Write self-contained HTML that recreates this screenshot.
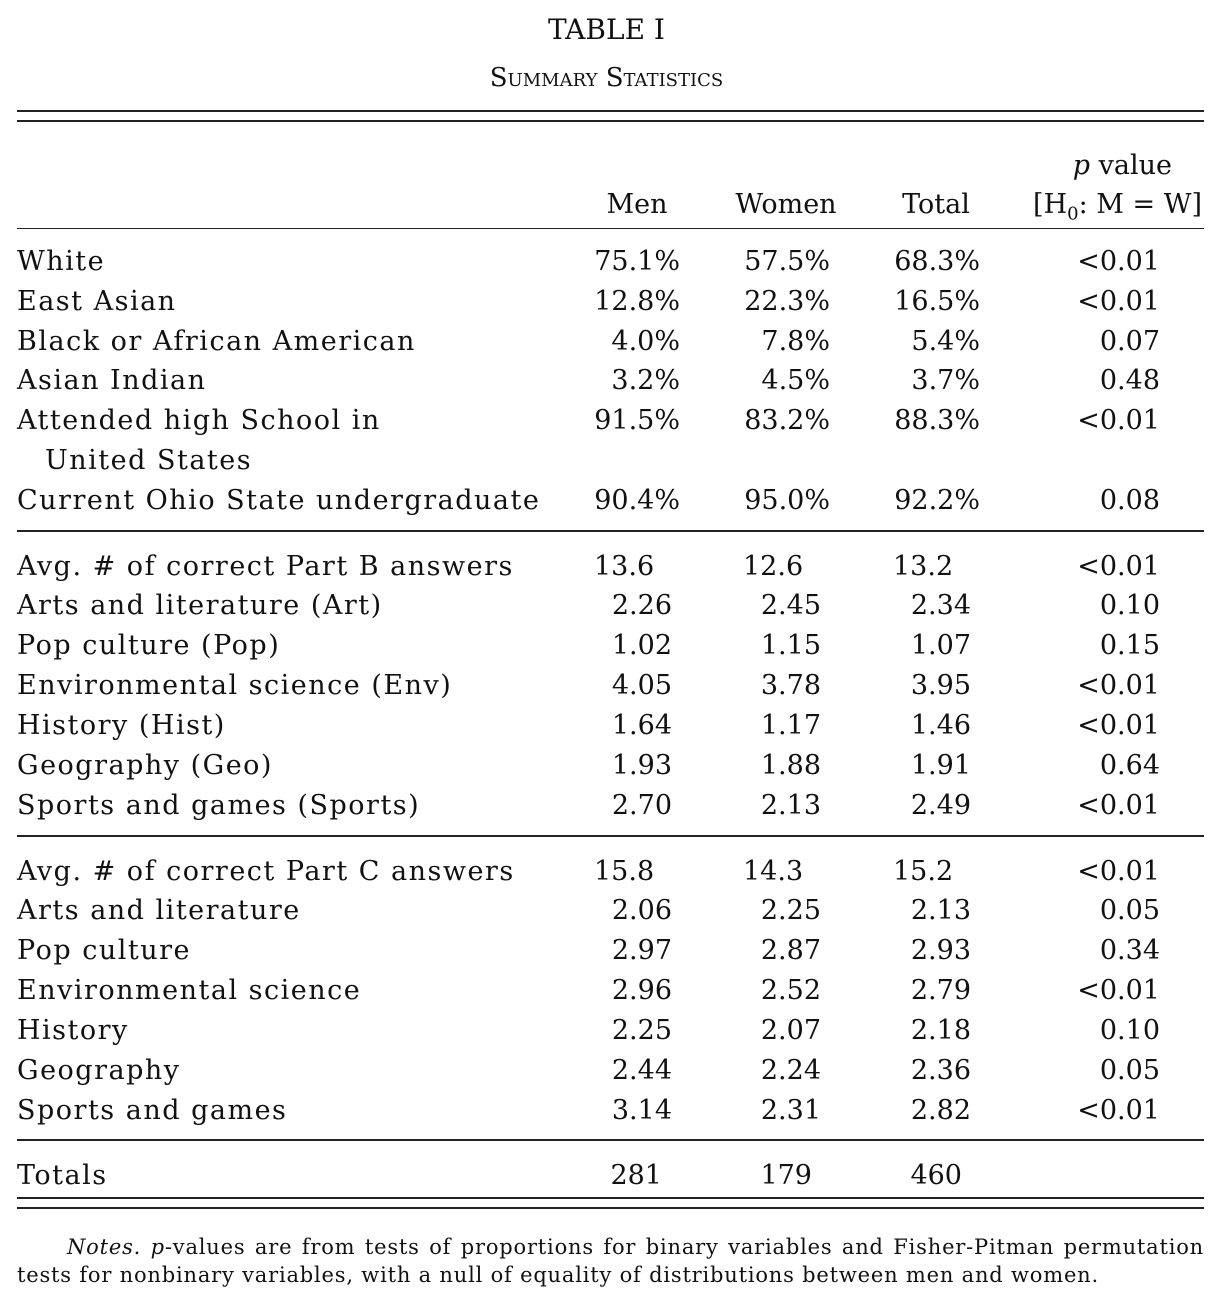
<!DOCTYPE html>
<html><head><meta charset="utf-8">
<style>
body{margin:0;background:#fff;}
#page{position:relative;width:1213px;height:1305px;background:#fff;color:#111;font-family:"DejaVu Serif","Liberation Serif",serif;overflow:hidden;}
.t{position:absolute;white-space:nowrap;line-height:40px;font-size:27px;}
.lab{letter-spacing:1.5px;}
.rule{position:absolute;left:17px;width:1187px;background:#222;}
</style></head><body>
<div id="page">
<div class="t" style="left:0;width:1213px;text-align:center;top:10px;font-size:28px;">TABLE I</div>
<div class="t" style="left:0;width:1213px;text-align:center;top:58px;font-size:26px;font-variant:small-caps;">Summary Statistics</div>
<div class="rule" style="top:110px;height:2px"></div>
<div class="rule" style="top:120px;height:2px"></div>
<div class="t" style="right:41px;top:146px;"><i>p</i> value</div>
<div class="t" style="left:587px;width:100px;text-align:center;top:185px;">Men</div>
<div class="t" style="left:726px;width:120px;text-align:center;top:185px;">Women</div>
<div class="t" style="left:886px;width:100px;text-align:center;top:185px;">Total</div>
<div class="t" style="right:11px;top:185px;">[H<sub style="font-size:18px">0</sub>: M = W]</div>
<div class="rule" style="top:228px;height:1px"></div>
<div class="rule" style="top:530px;height:2px"></div>
<div class="rule" style="top:835px;height:2px"></div>
<div class="rule" style="top:1139px;height:2px"></div>
<div class="rule" style="top:1197px;height:2px"></div>
<div class="rule" style="top:1207px;height:2px"></div>
<div style="position:absolute;left:17px;width:1187px;top:1233px;font-size:21px;line-height:28px;letter-spacing:0.8px;text-align:justify;text-align-last:left;text-indent:50px;"><i>Notes.</i> <i>p</i>-values are from tests of proportions for binary variables and Fisher-Pitman permutation tests for nonbinary variables, with a null of equality of distributions between men and women.</div>
</div>
<script>
const labels=["White","East Asian","Black or African American","Asian Indian","Attended high School in","Current Ohio State undergraduate",
"Avg. # of correct Part B answers","Arts and literature (Art)","Pop culture (Pop)","Environmental science (Env)","History (Hist)","Geography (Geo)","Sports and games (Sports)",
"Avg. # of correct Part C answers","Arts and literature","Pop culture","Environmental science","History","Geography","Sports and games","Totals"];
const men=["75.1%","12.8%","4.0%","3.2%","91.5%","90.4%","13.6","2.26","1.02","4.05","1.64","1.93","2.70","15.8","2.06","2.97","2.96","2.25","2.44","3.14","281"];
const women=["57.5%","22.3%","7.8%","4.5%","83.2%","95.0%","12.6","2.45","1.15","3.78","1.17","1.88","2.13","14.3","2.25","2.87","2.52","2.07","2.24","2.31","179"];
const total=["68.3%","16.5%","5.4%","3.7%","88.3%","92.2%","13.2","2.34","1.07","3.95","1.46","1.91","2.49","15.2","2.13","2.93","2.79","2.18","2.36","2.82","460"];
const pvals=["<0.01","<0.01","0.07","0.48","<0.01","0.08","<0.01","0.10","0.15","<0.01","<0.01","0.64","<0.01","<0.01","0.05","0.34","<0.01","0.10","0.05","<0.01",""];
const ys=[262,302,342,381,421,501,567,606,646,686,726,766,806,872,911,951,991,1031,1071,1111,1176];
const page=document.getElementById('page');
function add(txt,y,pos,name,cls){
  const d=document.createElement('div');
  d.className='t'+(cls?' '+cls:'');d.textContent=txt;d.style.top=(y-20)+'px';
  for(const k in pos)d.style[k]=pos[k];
  
  
  page.appendChild(d);
}
const colL=[594,743,893],colRpct=[1213-680,1213-830,1213-980],colRdec=[1213-672,1213-821,1213-971],colRtot=[1213-662,1213-812,1213-962];
for(let i=0;i<labels.length;i++){
  const y=ys[i];
  add(labels[i],y,{left:'17px'},'row-label','lab');
  if(i===4)add('United States',461,{left:'45px'},'row-label-continued','lab');
  [men,women,total].forEach((arr,c)=>{
    const v=arr[i];let pos;
    if(i<6)pos={right:colRpct[c]+'px'};
    else if(i===6||i===13)pos={left:colL[c]+'px'};
    else if(i===20)pos={right:colRtot[c]+'px'};
    else pos={right:colRdec[c]+'px'};
    add(v,y,pos,['men','women','total'][c]+'-value');
  });
  if(pvals[i])add(pvals[i],y,{right:(1213-1160)+'px'},'p-value');
}
</script>
</body></html>
